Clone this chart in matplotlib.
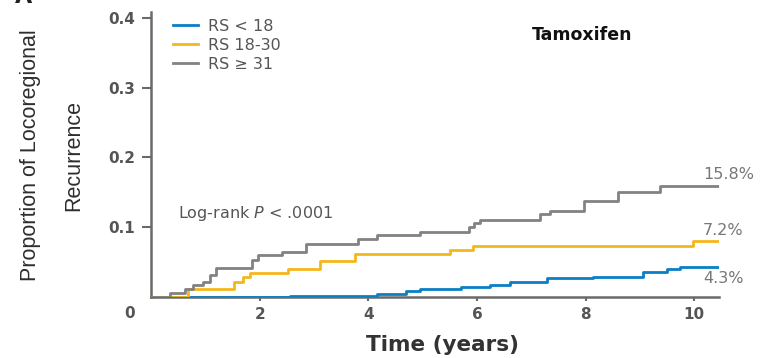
import matplotlib
matplotlib.use("Agg")
import matplotlib.pyplot as plt

# ---- data ----
t_high = [0, 0.35, 0.62, 0.77, 0.95, 1.08, 1.2, 1.85, 1.97, 2.4, 2.85, 3.8, 4.15, 4.95,
          5.85, 5.95, 6.05, 7.15, 7.34, 7.96, 8.6, 9.37, 10.45]
v_high = [0, 0.006, 0.011, 0.017, 0.022, 0.031, 0.041, 0.053, 0.060, 0.065, 0.076, 0.083,
          0.089, 0.093, 0.100, 0.106, 0.111, 0.119, 0.124, 0.137, 0.150, 0.159, 0.159]

t_mid = [0, 0.68, 1.52, 1.69, 1.82, 2.52, 3.1, 3.75, 5.5, 5.93, 9.98, 10.45]
v_mid = [0, 0.012, 0.021, 0.028, 0.035, 0.040, 0.051, 0.062, 0.067, 0.073, 0.081, 0.081]

t_low = [0, 2.55, 4.15, 4.7, 4.95, 5.7, 6.24, 6.6, 7.28, 8.14, 9.06, 9.49, 9.73, 10.45]
v_low = [0, 0.002, 0.005, 0.009, 0.012, 0.015, 0.017, 0.021, 0.027, 0.029, 0.036, 0.040,
         0.043, 0.043]

series_labels = ["RS < 18", "RS 18-30", "RS \u2265 31"]
end_labels = ["4.3%", "7.2%", "15.8%"]
end_label_y = [0.026, 0.096, 0.176]
x_ticks = [2, 4, 6, 8, 10]
y_ticks = [0.1, 0.2, 0.3, 0.4]
y_tick_labels = ["0.1", "0.2", "0.3", "0.4"]

c_blue = "#0a7fc4"
c_yellow = "#f4b71b"
c_gray = "#828282"
c_axis = "#6a6a6a"
c_text = "#555555"

plt.rcParams['font.family'] = ['DejaVu Sans']

fig = plt.figure(figsize=(7.6, 3.58), dpi=100)
ax = fig.add_axes([151.3 / 760, 1 - 297 / 358, 567.4 / 760, 285 / 358])

lw = 2.0
l_low, = ax.step(t_low, v_low, where='post', color=c_blue, lw=lw, zorder=3, label=series_labels[0])
l_mid, = ax.step(t_mid, v_mid, where='post', color=c_yellow, lw=lw, zorder=4, label=series_labels[1])
l_high, = ax.step(t_high, v_high, where='post', color=c_gray, lw=lw, zorder=5, label=series_labels[2])

ax.set_xlim(0, 10.45)
ax.set_ylim(0, 0.4086)

for s in ['top', 'right']:
    ax.spines[s].set_visible(False)
for s in ['left', 'bottom']:
    ax.spines[s].set_color(c_axis)
    ax.spines[s].set_linewidth(1.8)

ax.set_xticks(x_ticks)
ax.set_xticklabels([str(x) for x in x_ticks])
ax.set_yticks(y_ticks)
ax.set_yticklabels(y_tick_labels)
ax.tick_params(axis='y', length=6.5, width=1.5, color=c_axis, pad=5,
               labelsize=11, labelcolor=c_text)
ax.tick_params(axis='x', length=3, width=1.5, color=c_axis, pad=4,
               labelsize=11, labelcolor=c_text)
for lab in ax.get_xticklabels() + ax.get_yticklabels():
    lab.set_fontweight('bold')

# origin label
fig.text(130 / 760, 1 - 313 / 358, "0", ha='center', va='center', fontsize=11,
         fontweight='bold', color=c_text)

# axis labels
ax.set_xlabel("Time (years)", fontsize=15.5, fontweight='bold', color='#333333')
ax.xaxis.set_label_coords((442 - 151.3) / 567.4, -(345 - 297) / 285)
ax.xaxis.label.set_va('center')
fig.text(52 / 760, 1 - 155 / 358, "Proportion of Locoregional\nRecurrence", rotation=90,
         ha='center', va='center', fontsize=15.5, linespacing=2.35, color='#2e2e2e',
         family=['Liberation Sans', 'DejaVu Sans'])

# legend
leg = ax.legend(handles=[l_low, l_mid, l_high], loc='upper left',
                bbox_to_anchor=((175 - 151.3) / 567.4 - 0.004, (297 - 19) / 285),
                frameon=False, fontsize=11.5, handlelength=1.6, handletextpad=0.6,
                labelspacing=0.25, borderpad=0, borderaxespad=0)
for txt in leg.get_texts():
    txt.set_color(c_text)

# annotations
ax.text(7.93, 0.376, "Tamoxifen", ha='center', va='center', fontsize=12.5,
        fontweight='bold', color='#111111')
ax.text(0.49, 0.120, "Log-rank $\\mathit{P}$ < .0001", ha='left', va='center',
        fontsize=11.5, color=c_text)
for lab, y in zip(end_labels, end_label_y):
    ax.text(10.16, y, lab, ha='left', va='center', fontsize=11.5, color='#777777',
            clip_on=False)

# cut-off panel letter at top-left (only its foot is visible in the reference)
fig.text(24 / 760, 1 - 3 / 358, "A", ha='center', va='baseline', fontsize=16,
         fontweight='bold', color='#222222')

fig.savefig("out.png", dpi=100)
